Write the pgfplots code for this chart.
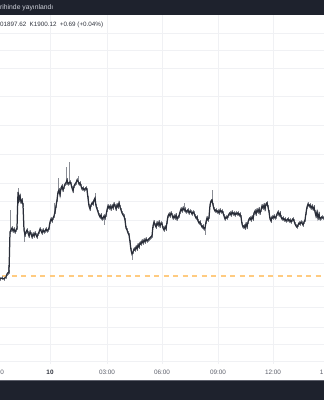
\documentclass[border=0pt]{standalone}
\usepackage{pgfplots}
\pgfplotsset{compat=1.18}
\usepackage{pgfplotstable}
\usepackage{fontspec}
\setmainfont{Liberation Sans}
\definecolor{hdr}{HTML}{1E222D}
\definecolor{hdrtext}{HTML}{D1D4DC}
\definecolor{gridc}{HTML}{F0F1F4}
\definecolor{candle}{HTML}{2A2E39}
\definecolor{wick}{HTML}{8A8D95}
\definecolor{orng}{HTML}{FFCB80}
\definecolor{lgd}{HTML}{2E323C}
\definecolor{lbl}{HTML}{5D606B}
\definecolor{bandline}{HTML}{5D606B}

\pgfplotstableread{
x y
0 279
2 278
4 279
6 277
7 274
8 273
9 272
10 232
11 230
12 228
13 231
14 229
15 232
16 230
17 228
18 192
19 200
20 196
21 202
22 200
23 205
24 230
25 235
26 232
27 230
28 233
29 236
30 232
31 234
32 237
33 234
34 236
35 233
36 235
37 237
38 234
39 232
40 229
41 231
42 233
43 230
44 232
45 231
46 229
47 231
48 230
49 228
50 222
51 219
52 221
53 218
54 216
55 212
56 206
57 200
58 192
59 190
60 195
61 188
62 186
63 190
64 187
65 184
66 183
67 180
68 184
69 183
70 182
71 184
72 188
73 191
74 186
75 184
76 183
77 180
78 181
79 184
80 183
81 186
82 189
83 188
84 190
85 189
86 188
87 190
88 198
89 206
90 209
91 205
92 203
93 204
94 200
95 198
96 206
97 209
98 212
99 215
100 217
101 215
102 219
103 218
104 216
105 218
106 215
107 210
108 206
109 208
110 206
111 209
112 206
113 208
114 204
115 206
116 209
117 205
118 207
119 203
120 207
121 210
122 213
123 215
124 216
125 220
126 228
127 230
128 233
129 235
130 242
131 250
132 254
133 252
134 249
135 250
136 247
137 249
138 245
139 247
140 243
141 244
142 241
143 243
144 240
145 242
146 239
147 241
148 240
149 239
150 238
151 237
152 236
153 226
154 222
155 225
156 227
157 223
158 225
159 222
160 226
161 223
162 224
163 228
164 230
165 227
166 229
167 222
168 216
169 214
170 216
171 213
172 215
173 218
174 216
175 218
176 215
177 219
178 217
179 216
180 212
181 209
182 211
183 208
184 210
185 209
186 212
187 211
188 210
189 213
190 211
191 212
192 214
193 212
194 213
195 216
196 218
197 217
198 221
199 223
200 222
201 225
202 227
203 226
204 229
205 228
206 222
207 218
208 220
209 217
210 205
211 201
212 200
213 205
214 209
215 211
216 210
217 212
218 211
219 213
220 210
221 212
222 211
223 213
224 216
225 219
226 217
227 218
228 216
229 214
230 213
231 215
232 212
233 214
234 213
235 215
236 213
237 214
238 213
239 215
240 214
241 217
242 224
243 227
244 226
245 228
246 224
247 227
248 222
249 219
250 218
251 220
252 217
253 219
254 213
255 211
256 214
257 210
258 212
259 209
260 213
261 210
262 206
263 208
264 205
265 209
266 204
267 203
268 207
269 212
270 219
271 221
272 217
273 218
274 216
275 218
276 217
277 214
278 212
279 215
280 213
281 217
282 219
283 218
284 220
285 219
286 221
287 220
288 219
289 221
290 220
291 222
292 220
293 219
294 221
295 224
296 226
297 227
298 225
299 223
300 224
301 222
302 223
303 225
304 222
305 220
306 213
307 207
308 204
309 206
310 205
311 208
312 206
313 209
314 207
315 212
316 216
317 212
318 218
319 214
320 219
321 218
322 217
323 218
324 218
}\pricedata

\pgfplotstableread{
x y m p
8 272 7 0
10 232 22 0
18 192 4 0
24 230 0 12
54 216 13 0
58 192 14 0
66 183 16 0
69 183 21 0
78 181 5 0
95 198 5 0
104 216 0 9
132 254 0 6
184 210 7 0
205 228 0 7
212 200 10 0
}\wickdata

\begin{document}
\begin{tikzpicture}
\useasboundingbox (0,0) rectangle (324bp,400bp);
\clip (0,0) rectangle (324bp,400bp);
\begin{axis}[
  at={(0,0)}, anchor=south west,
  scale only axis, width=324bp, height=400bp,
  xmin=0, xmax=324, ymin=0, ymax=400, y dir=reverse,
  axis line style={draw=none}, tick style={draw=none},
  xtick={50,107,162,218,273},
  ytick={33,50,68,96,125,154,183,201,220,241,263,286,307,327,344,361},
  xticklabels={}, yticklabels={},
  grid=major, major grid style={gridc, line width=0.7bp},
  clip=false,
]
% previous close line
\addplot[orng, line width=1.4bp, dash pattern=on 5bp off 4.5bp, dash phase=-2bp] coordinates {(0,276) (324,276)};
% small wicks on every bar
\addplot[draw=none, mark=none, error bars/.cd, y dir=both, y fixed=1.8,
  error mark=none, error bar style={wick, line width=0.5bp}] table[x=x,y=y] {\pricedata};
% long wicks
\addplot[draw=none, mark=none, error bars/.cd, y dir=both, y explicit,
  error mark=none, error bar style={wick, line width=0.8bp}]
  table[x=x, y=y, y error minus=m, y error plus=p] {\wickdata};
% price
\addplot[candle, line width=1.25bp, mark=none, line join=miter] table[x=x,y=y] {\pricedata};
% label strip, header and bottom band
\fill[white] (axis cs:-10,364) rectangle (axis cs:334,380);
\fill[hdr] (axis cs:-10,-5) rectangle (axis cs:334,15.3);
\fill[hdr] (axis cs:-10,380) rectangle (axis cs:334,405);
\draw[bandline, line width=0.6bp] (axis cs:-10,380.3) -- (axis cs:334,380.3);
% texts
\node[anchor=west, inner sep=0, text=hdrtext, font=\fontsize{6.8}{8}\selectfont] at (axis cs:0,8) {rihinde yayınlandı};
\node[anchor=west, inner sep=0, text=lgd, font=\fontsize{6.3}{7}\selectfont] at (axis cs:0,24.5) {01897.62\hspace{3.3bp}K1900.12\hspace{3.3bp}+0.69 (+0.04\%)};
\node[anchor=west, inner sep=0, text=lbl, font=\fontsize{6.4}{7}\selectfont] at (axis cs:0.3,372) {0};
\node[inner sep=0, text=lgd, font=\bfseries\fontsize{6.4}{7}\selectfont] at (axis cs:50,372) {10};
\node[inner sep=0, text=lbl, font=\fontsize{6.4}{7}\selectfont] at (axis cs:107,372) {03:00};
\node[inner sep=0, text=lbl, font=\fontsize{6.4}{7}\selectfont] at (axis cs:162,372) {06:00};
\node[inner sep=0, text=lbl, font=\fontsize{6.4}{7}\selectfont] at (axis cs:218,372) {09:00};
\node[inner sep=0, text=lbl, font=\fontsize{6.4}{7}\selectfont] at (axis cs:273,372) {12:00};
\node[anchor=east, inner sep=0, text=lbl, font=\fontsize{6.4}{7}\selectfont] at (axis cs:323.7,372) {1};
\end{axis}
\end{tikzpicture}
\end{document}
